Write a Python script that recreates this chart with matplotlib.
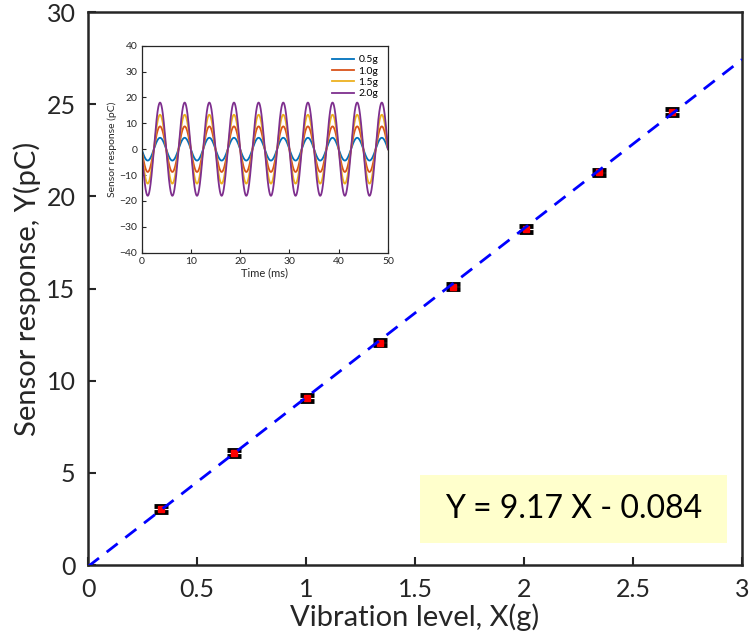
import numpy as np
import matplotlib
matplotlib.use("Agg")
import matplotlib.pyplot as plt
from matplotlib.patches import Rectangle

plt.rcParams['font.family'] = ['Lato', 'DejaVu Sans']

# main data: vibration level vs sensor response
vib_level = [0.335, 0.67, 1.005, 1.34, 1.675, 2.01, 2.345, 2.68]
response = [3.04, 6.08, 9.06, 12.06, 15.10, 18.23, 21.30, 24.60]
response_err = [0.16, 0.18, 0.18, 0.14, 0.14, 0.14, 0.14, 0.16]
fit_slope = 9.17
fit_icpt = -0.084

# inset: sinusoidal responses (amplitude in pC)
inset_labels = ['0.5g', '1.0g', '1.5g', '2.0g']
inset_amp = [4.4, 8.8, 13.3, 18.0]
inset_period = 5.0   # ms
inset_colors = ['#0072BD', '#D95319', '#EDB120', '#7E2F8E']

axc = '#262626'

fig = plt.figure(figsize=(7.49, 6.43), dpi=100)
ax = fig.add_axes([0.1175, 0.1213, 0.8732, 0.86])

ax.errorbar(vib_level, response, yerr=response_err, fmt='s', color='red',
            markersize=5, ecolor='black', elinewidth=2, capsize=5, capthick=3.5,
            zorder=3)
xf = np.array([0, 3])
ax.plot(xf, fit_slope * xf + fit_icpt, '--', color='blue', lw=2,
        dashes=(5, 3.5), zorder=4)

ax.set_xlim(0, 3)
ax.set_ylim(0, 30)
ax.set_xticks([0, 0.5, 1, 1.5, 2, 2.5, 3])
ax.set_xticklabels(['0', '0.5', '1', '1.5', '2', '2.5', '3'])
ax.set_yticks([0, 5, 10, 15, 20, 25, 30])
ax.tick_params(direction='in', length=6, width=1.5, labelsize=18,
               colors=axc, top=False, right=False, pad=9)
for s in ax.spines.values():
    s.set_linewidth(1.8)
    s.set_color(axc)
ax.set_xlabel('Vibration level, X(g)', fontsize=21, color=axc, labelpad=2)
ax.set_ylabel('Sensor response, Y(pC)', fontsize=21, color=axc, labelpad=4)

# equation box
ax.add_patch(Rectangle((0.5076, 0.0398), 0.4694, 0.1229, transform=ax.transAxes,
                       fc='#FFFFCC', ec='none', zorder=1))
ax.text(0.742, 0.101, 'Y = 9.17 X - 0.084', transform=ax.transAxes,
        ha='center', va='center', fontsize=23, color='black', zorder=2)

# inset
ins = fig.add_axes([0.189, 0.607, 0.329, 0.322])
t = np.linspace(0, 50, 2001)
for amp, lab, c in zip(inset_amp, inset_labels, inset_colors):
    ins.plot(t, -amp * np.sin(2 * np.pi * t / inset_period), color=c,
             lw=1.3, label=lab)
ins.set_xlim(0, 50)
ins.set_ylim(-40, 40)
ins.set_xticks(range(0, 51, 10))
ins.set_yticks(range(-40, 41, 10))
ins.tick_params(direction='in', length=3, width=0.8, labelsize=7.5,
                colors=axc, pad=3)
for s in ins.spines.values():
    s.set_linewidth(0.9)
    s.set_color(axc)
ins.set_xlabel('Time (ms)', fontsize=8, color=axc, labelpad=1)
ins.set_ylabel('Sensor response (pC)', fontsize=7.5, color=axc, labelpad=2)
ins.legend(loc='upper right', frameon=False, fontsize=7.5, handlelength=2.2,
           labelspacing=0.2, borderaxespad=0.5, handletextpad=0.4)

fig.savefig('out.png', dpi=100)
